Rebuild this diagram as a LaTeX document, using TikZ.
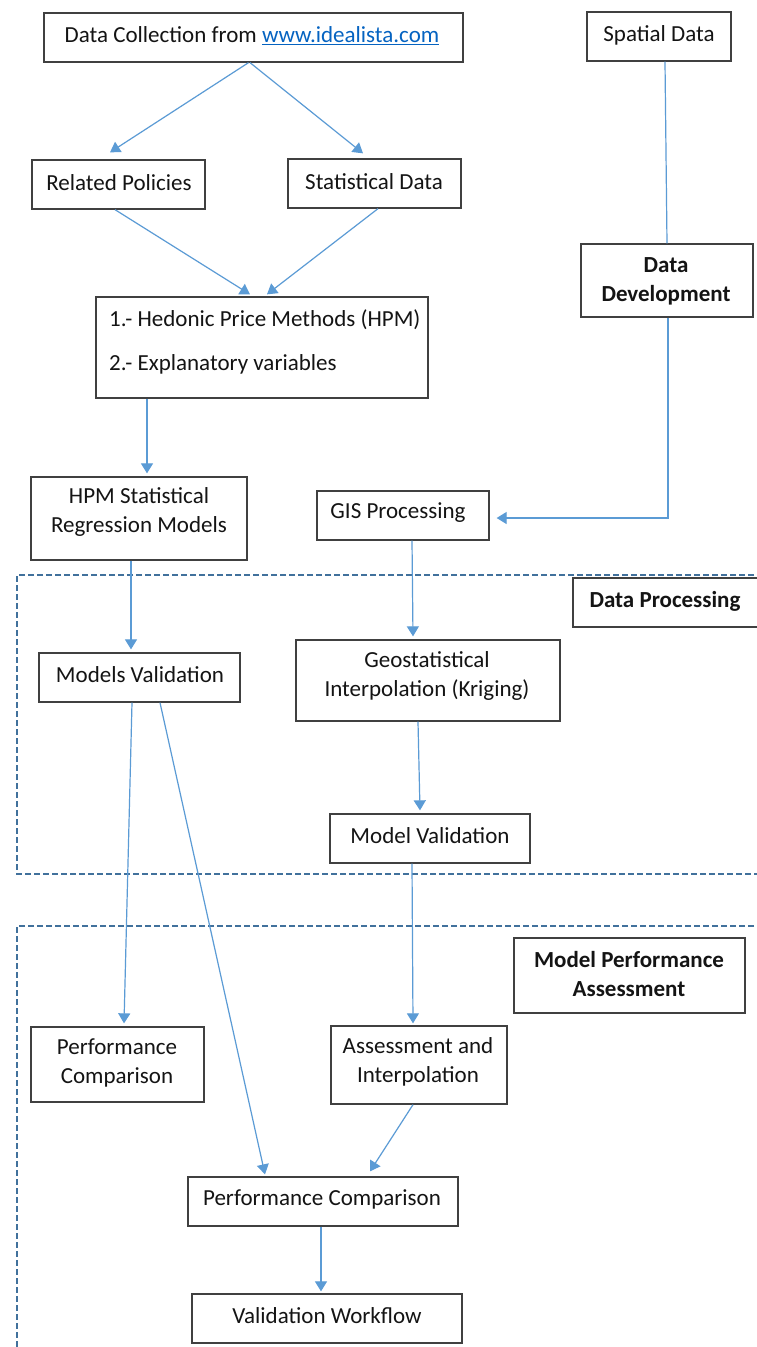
\documentclass[tikz,border=0pt]{standalone}
\usepackage{fontspec}
\setmainfont{Carlito}
\usetikzlibrary{arrows.meta,calc}
\definecolor{arrowblue}{HTML}{5B9BD5}
\definecolor{dashblue}{HTML}{41719C}
\definecolor{boxgray}{HTML}{404040}
\definecolor{txtcol}{HTML}{141414}
\definecolor{linkblue}{HTML}{0563C1}
\begin{document}
\begin{tikzpicture}[x=1pt,y=-1pt,
  box/.style={draw=boxgray, line width=1.3pt, fill=white, inner sep=0pt},
  txt/.style={text=txtcol, font=\fontsize{23}{29}\selectfont, align=center, inner sep=0pt},
  btxt/.style={text=txtcol, font=\fontsize{23}{29}\selectfont\bfseries, align=center, inner sep=0pt},
  arr/.style={draw=arrowblue, line width=1.2pt, -{Triangle[length=10pt,width=12pt]}},
  lnk/.style={draw=arrowblue, line width=1.2pt},
  frame/.style={draw=dashblue, line width=2pt, dash pattern=on 6pt off 3pt}]
\useasboundingbox (0,0) rectangle (757,1347);
\fill[white] (0,0) rectangle (757,1347);

% dashed regions
\draw[frame] (790,575) -- (17,575) -- (17,874) -- (790,874);
\draw[frame] (790,926) -- (17,926) -- (17,1380);

% boxes
\node[box, minimum width=419pt, minimum height=49pt] (dc) at (253.5,37.5) {};
\node[box, minimum width=144pt, minimum height=49pt] (sp) at (659,36.5) {};
\node[box, minimum width=173pt, minimum height=49pt] (rp) at (118.5,184.5) {};
\node[box, minimum width=173pt, minimum height=49pt] (sd) at (374.5,183.5) {};
\node[box, minimum width=332pt, minimum height=101pt] (hpm) at (262,347.5) {};
\node[box, minimum width=172pt, minimum height=73pt] (dd) at (667,280.5) {};
\node[box, minimum width=216pt, minimum height=83pt] (reg) at (139,518.5) {};
\node[box, minimum width=172pt, minimum height=49pt] (gis) at (403,515.5) {};
\node[box, minimum width=200pt, minimum height=49pt] (dpl) at (673,602.5) {};
\node[box, minimum width=264pt, minimum height=81pt] (geo) at (428,680.5) {};
\node[box, minimum width=201pt, minimum height=49pt] (mv) at (139.5,677.5) {};
\node[box, minimum width=200pt, minimum height=49pt] (mval) at (430,838.5) {};
\node[box, minimum width=231pt, minimum height=75pt] (mpa) at (629.5,975.5) {};
\node[box, minimum width=173pt, minimum height=75pt] (pc1) at (117.5,1064.5) {};
\node[box, minimum width=176pt, minimum height=78pt] (ai) at (419,1065) {};
\node[box, minimum width=270pt, minimum height=49pt] (pc2) at (323,1201.5) {};
\node[box, minimum width=270pt, minimum height=49pt] (vw) at (327,1318.5) {};

% texts
\node[txt] (dc-t) at (252,36) {Data Collection from {\color{linkblue}\underline{www.idealista.com}}};
\node[txt] (sp-t) at (659,35) {Spatial Data};
\node[txt] (rp-t) at (119,183) {Related Policies};
\node[txt] (sd-t) at (374,182) {Statistical Data};
\node[txt, anchor=west] (hpm-t1) at (109,320) {1.- Hedonic Price Methods (HPM)};
\node[txt, anchor=west] (hpm-t2) at (109,364) {2.- Explanatory variables};
\node[btxt] (dd-t) at (666,281) {Data\\Development};
\node[txt] (reg-t) at (139,512) {HPM Statistical\\Regression Models};
\node[txt] (gis-t) at (398,513) {GIS Processing};
\node[btxt] (dpl-t) at (665,601) {Data Processing};
\node[txt] (geo-t) at (427,675.5) {Geostatistical\\Interpolation (Kriging)};
\node[txt] (mv-t) at (140,675) {Models Validation};
\node[txt] (mval-t) at (430,836) {Model Validation};
\node[btxt] (mpa-t) at (629,974.5) {Model Performance\\Assessment};
\node[txt] (pc1-t) at (117,1062.5) {Performance\\Comparison};
\node[txt] (ai-t) at (418,1061.5) {Assessment and\\Interpolation};
\node[txt] (pc2-t) at (322,1199) {Performance Comparison};
\node[txt] (vw-t) at (327,1316) {Validation Workflow};

% connectors
\draw[arr] ([xshift=-5pt]dc.south) -- ([xshift=-8.5pt,yshift=7pt]rp.north);
\draw[arr] ([xshift=-3.5pt]dc.south) -- ([xshift=-11.5pt,yshift=5pt]sd.north);
\draw[arr] ([xshift=-3.5pt]rp.south) -- ([xshift=-12pt,yshift=2pt]hpm.north);
\draw[arr] ([xshift=3.5pt]sd.south) -- ([xshift=5pt,yshift=2pt]hpm.north);
\draw[arr] ([xshift=-115pt]hpm.south) -- ([xshift=8pt,yshift=3pt]reg.north);
\draw[lnk] ([xshift=6pt]sp.south) -- (dd.north);
\draw[arr] ([xshift=1pt]dd.south) |- ([xshift=7pt,yshift=-2.5pt]gis.east);
\draw[arr] ([xshift=9pt]gis.south) -- ([xshift=-15pt,yshift=3pt]geo.north);
\draw[arr] ([xshift=-8pt]reg.south) -- ([xshift=-8.5pt,yshift=3pt]mv.north);
\draw[arr] ([xshift=-10pt]geo.south) -- ([xshift=-10pt,yshift=3pt]mval.north);
\draw[arr] ([xshift=-7.5pt]mv.south) -- ([xshift=6.5pt,yshift=3pt]pc1.north);
\draw[arr] ([xshift=20.5pt]mv.south) -- ([xshift=-58pt,yshift=2pt]pc2.north);
\draw[arr] ([xshift=-18pt]mval.south) -- ([xshift=-6pt,yshift=2pt]ai.north);
\draw[arr] ([xshift=-6pt]ai.south) -- ([xshift=47pt,yshift=5pt]pc2.north);
\draw[arr] ([xshift=-2pt]pc2.south) -- ([xshift=-6pt,yshift=2pt]vw.north);
\end{tikzpicture}
\end{document}
